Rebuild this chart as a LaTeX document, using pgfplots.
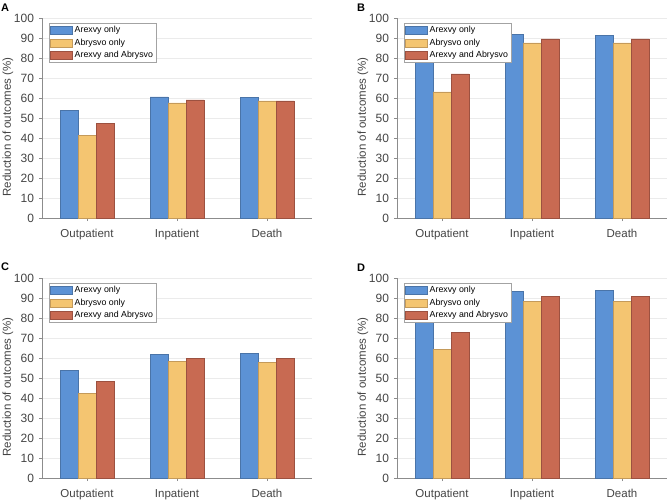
\documentclass[border=0pt]{standalone}
\usepackage{fontspec}
\setmainfont{Liberation Sans}
\usepackage{pgfplots}
\pgfplotsset{compat=1.18}
\definecolor{cA}{HTML}{5C92D5}
\definecolor{cAd}{HTML}{4A74A8}
\definecolor{cB}{HTML}{F4C571}
\definecolor{cBd}{HTML}{C49A5A}
\definecolor{cC}{HTML}{C86A52}
\definecolor{cCd}{HTML}{9C5140}
\definecolor{axgray}{HTML}{8C8C8C}
\definecolor{txtgray}{HTML}{444444}
\pgfplotsset{
  panel/.style={
    scale only axis, width=270pt, height=200pt,
    xmin=-0.5, xmax=2.5, ymin=0, ymax=100,
    ybar=0pt, bar width=18pt,
    xtick={0,1,2}, xticklabels={Outpatient,Inpatient,Death},
    ytick={0,10,...,100},
    ymajorgrids, grid style={black!8, line width=0.5pt},
    axis x line*=bottom, axis y line*=left,
    axis line style={axgray, line width=0.6pt},
    tick style={axgray, line width=0.6pt},
    tick align=outside, major tick length=3pt,
    xtick style={draw=axgray},
    ticklabel style={text=txtgray},
    xticklabel style={font=\fontsize{11.5}{13}\selectfont, yshift=-5pt},
    yticklabel style={font=\fontsize{12}{13}\selectfont, xshift=-1.5pt},
    /pgf/number format/assume math mode=true,
    ylabel={Reduction of outcomes (\%)},
    ylabel style={font=\fontsize{11.5}{13}\selectfont, text=txtgray, at={(axis description cs:-0.126,0.455)}, anchor=center},
    legend style={at={(axis description cs:0.026,0.973)}, anchor=north west,
      draw=axgray!80, fill=white, font=\fontsize{8.8}{10}\selectfont,
      inner sep=1pt, row sep=0.5pt, cells={anchor=west}},
    legend image code/.code={\draw[#1] (0pt,-4pt) rectangle (22pt,4pt);},
    clip=false,
  },
  sA/.style={fill=cA, draw=cAd, line width=0.5pt},
  sB/.style={fill=cB, draw=cBd, line width=0.5pt},
  sC/.style={fill=cC, draw=cCd, line width=0.5pt},
}
\begin{document}
\begin{tikzpicture}
\path[use as bounding box] (0,0) rectangle (668pt,499pt);
% Panel A
\begin{axis}[panel, at={(42pt,281pt)}, anchor=south west]
\addplot[sA] coordinates {(0,53.7) (1,60.5) (2,60.3)};
\addplot[sB] coordinates {(0,41.5) (1,57.5) (2,58.5)};
\addplot[sC] coordinates {(0,47.5) (1,59.0) (2,58.5)};
\legend{Arexvy only, Abrysvo only, Arexvy and Abrysvo}
\end{axis}
% Panel B
\begin{axis}[panel, at={(397pt,281pt)}, anchor=south west]
\addplot[sA] coordinates {(0,82.0) (1,91.8) (2,91.3)};
\addplot[sB] coordinates {(0,63.0) (1,87.5) (2,87.5)};
\addplot[sC] coordinates {(0,72.0) (1,89.5) (2,89.5)};
\legend{Arexvy only, Abrysvo only, Arexvy and Abrysvo}
\end{axis}
% Panel C
\begin{axis}[panel, at={(42pt,21pt)}, anchor=south west]
\addplot[sA] coordinates {(0,54.0) (1,61.7) (2,62.3)};
\addplot[sB] coordinates {(0,42.3) (1,58.2) (2,57.8)};
\addplot[sC] coordinates {(0,48.2) (1,59.8) (2,60.0)};
\legend{Arexvy only, Abrysvo only, Arexvy and Abrysvo}
\end{axis}
% Panel D
\begin{axis}[panel, at={(397pt,21pt)}, anchor=south west]
\addplot[sA] coordinates {(0,83.0) (1,93.2) (2,93.7)};
\addplot[sB] coordinates {(0,64.3) (1,88.3) (2,88.3)};
\addplot[sC] coordinates {(0,73.0) (1,90.8) (2,91.0)};
\legend{Arexvy only, Abrysvo only, Arexvy and Abrysvo}
\end{axis}
\node[anchor=north west, inner sep=0pt, font=\bfseries\fontsize{11}{12}\selectfont] at (1pt,495pt) {A};
\node[anchor=north west, inner sep=0pt, font=\bfseries\fontsize{11}{12}\selectfont] at (357pt,495pt) {B};
\node[anchor=north west, inner sep=0pt, font=\bfseries\fontsize{11}{12}\selectfont] at (1pt,236pt) {C};
\node[anchor=north west, inner sep=0pt, font=\bfseries\fontsize{11}{12}\selectfont] at (357pt,235pt) {D};
\end{tikzpicture}
\end{document}
